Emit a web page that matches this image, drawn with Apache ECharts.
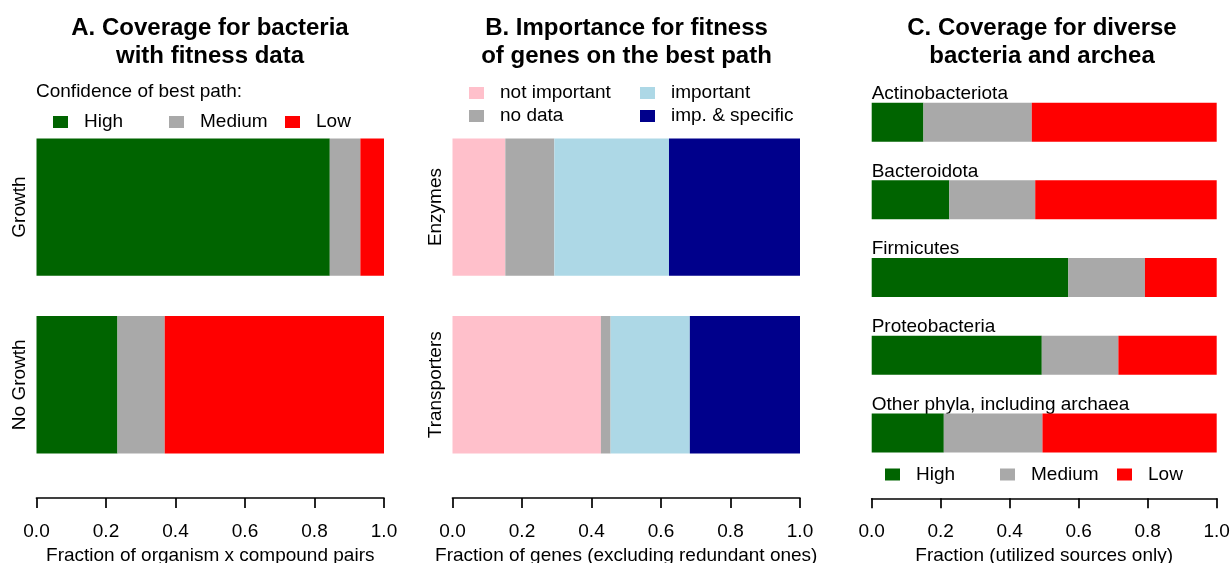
<!DOCTYPE html>
<html>
<head>
<meta charset="utf-8">
<script src="https://cdn.jsdelivr.net/npm/echarts@6/dist/echarts.min.js"></script>
<style>
html,body{margin:0;padding:0;background:#fff;}
#main{width:1230px;height:563px;}
</style>
</head>
<body>
<div id="main"></div>
<script>
// Panel A data
const categoriesA = ['Growth', 'No Growth'];
const highA = [0.844, 0.233];
const mediumA = [0.088, 0.136];
const lowA = [0.068, 0.631];

// Panel B data
const categoriesB = ['Enzymes', 'Transporters'];
const notImportantB = [0.152, 0.427];
const noDataB = [0.141, 0.028];
const importantB = [0.330, 0.228];
const impSpecificB = [0.377, 0.317];

// Panel C data
const categoriesC = ['Actinobacteriota', 'Bacteroidota', 'Firmicutes', 'Proteobacteria', 'Other phyla, including archaea'];
const highC = [0.150, 0.225, 0.570, 0.493, 0.209];
const mediumC = [0.314, 0.249, 0.222, 0.222, 0.286];
const lowC = [0.536, 0.526, 0.208, 0.285, 0.505];

const FONT = 'Liberation Sans, Arial, Helvetica, sans-serif';
const C = {
  high: '#006400', medium: '#A9A9A9', low: '#FF0000',
  notImp: '#FFC0CB', noData: '#A9A9A9', imp: '#ADD8E6', impSpec: '#00008B'
};

const chart = echarts.init(document.getElementById('main'));

function xAxisDef(gridIndex, name, offset) {
  return {
    type: 'value', gridIndex: gridIndex, min: 0, max: 1, interval: 0.2,
    position: 'bottom', offset: offset,
    axisLine: {show: true, lineStyle: {color: '#000', width: 1.7}},
    axisTick: {show: true, length: 10, lineStyle: {color: '#000', width: 1.7}},
    axisLabel: {color: '#000', fontSize: 19, fontFamily: FONT, margin: 24,
      formatter: v => v.toFixed(1)},
    splitLine: {show: false},
    name: name, nameLocation: 'middle', nameGap: 46,
    nameTextStyle: {color: '#000', fontSize: 19, fontFamily: FONT}
  };
}

function legendItem(name, left, top) {
  return {
    data: [name], left: left, top: top, icon: 'rect',
    itemWidth: 15, itemHeight: 12, selectedMode: false,
    padding: 0,
    textStyle: {color: '#000', fontSize: 19, fontFamily: FONT, padding: [0, 0, 0, 11]}
  };
}

const titleStyle = {color: '#000', fontSize: 24, fontWeight: 'bold', fontFamily: FONT, lineHeight: 27.5};

const option = {
  animation: false,
  backgroundColor: '#fff',
  title: [
    {text: 'A. Coverage for bacteria\nwith fitness data', left: 210, top: 15, textAlign: 'center', padding: 0, textStyle: titleStyle},
    {text: 'B. Importance for fitness\nof genes on the best path', left: 626.5, top: 15, textAlign: 'center', padding: 0, textStyle: titleStyle},
    {text: 'C. Coverage for diverse\nbacteria and archea', left: 1042, top: 15, textAlign: 'center', padding: 0, textStyle: titleStyle},
    {text: 'Confidence of best path:', left: 36, top: 82, padding: 0,
      textStyle: {color: '#000', fontSize: 19, fontWeight: 'normal', fontFamily: FONT}}
  ],
  legend: [
    legendItem('High', 53, 112.5),
    legendItem('Medium', 169, 112.5),
    legendItem('Low', 285, 112.5),
    legendItem('not important', 469, 83.5),
    legendItem('important', 640, 83.5),
    legendItem('no data', 469, 106.5),
    legendItem('imp. & specific', 640, 106.5),
    legendItem('High', 885, 465),
    legendItem('Medium', 1000, 465),
    legendItem('Low', 1117, 465)
  ],
  grid: [
    {left: 36.5, width: 347.5, top: 118.2, height: 355.4, outerBoundsMode: 'none', containLabel: false},
    {left: 452.5, width: 347.5, top: 118.2, height: 355.4, outerBoundsMode: 'none', containLabel: false},
    {left: 871.7, width: 345, top: 83.3, height: 388.5, outerBoundsMode: 'none', containLabel: false}
  ],
  xAxis: [
    xAxisDef(0, 'Fraction of organism x compound pairs', 24.4),
    xAxisDef(1, 'Fraction of genes (excluding redundant ones)', 24.4),
    xAxisDef(2, 'Fraction (utilized sources only)', 26.5)
  ],
  yAxis: [
    {type: 'category', gridIndex: 0, data: categoriesA, inverse: true,
      axisLine: {show: false}, axisTick: {show: false},
      axisLabel: {rotate: 90, color: '#000', fontSize: 19, fontFamily: FONT, margin: 7}},
    {type: 'category', gridIndex: 1, data: categoriesB, inverse: true,
      axisLine: {show: false}, axisTick: {show: false},
      axisLabel: {rotate: 90, color: '#000', fontSize: 19, fontFamily: FONT, margin: 7}},
    {type: 'category', gridIndex: 2, data: categoriesC, inverse: true,
      axisLine: {show: false}, axisTick: {show: false},
      axisLabel: {inside: true, align: 'left', verticalAlign: 'bottom', margin: 0,
        padding: [0, 0, 19, 0], color: '#000', fontSize: 19, fontFamily: FONT}}
  ],
  series: [
    {name: 'High', type: 'bar', stack: 'a', xAxisIndex: 0, yAxisIndex: 0, barWidth: 137.3, data: highA, itemStyle: {color: C.high}},
    {name: 'Medium', type: 'bar', stack: 'a', xAxisIndex: 0, yAxisIndex: 0, barWidth: 137.3, data: mediumA, itemStyle: {color: C.medium}},
    {name: 'Low', type: 'bar', stack: 'a', xAxisIndex: 0, yAxisIndex: 0, barWidth: 137.3, data: lowA, itemStyle: {color: C.low}},
    {name: 'not important', type: 'bar', stack: 'b', xAxisIndex: 1, yAxisIndex: 1, barWidth: 137.3, data: notImportantB, itemStyle: {color: C.notImp}},
    {name: 'no data', type: 'bar', stack: 'b', xAxisIndex: 1, yAxisIndex: 1, barWidth: 137.3, data: noDataB, itemStyle: {color: C.noData}},
    {name: 'important', type: 'bar', stack: 'b', xAxisIndex: 1, yAxisIndex: 1, barWidth: 137.3, data: importantB, itemStyle: {color: C.imp}},
    {name: 'imp. & specific', type: 'bar', stack: 'b', xAxisIndex: 1, yAxisIndex: 1, barWidth: 137.3, data: impSpecificB, itemStyle: {color: C.impSpec}},
    {name: 'High', type: 'bar', stack: 'c', xAxisIndex: 2, yAxisIndex: 2, barWidth: 39, data: highC, itemStyle: {color: C.high}},
    {name: 'Medium', type: 'bar', stack: 'c', xAxisIndex: 2, yAxisIndex: 2, barWidth: 39, data: mediumC, itemStyle: {color: C.medium}},
    {name: 'Low', type: 'bar', stack: 'c', xAxisIndex: 2, yAxisIndex: 2, barWidth: 39, data: lowC, itemStyle: {color: C.low}}
  ]
};
chart.setOption(option);
</script>
</body>
</html>
